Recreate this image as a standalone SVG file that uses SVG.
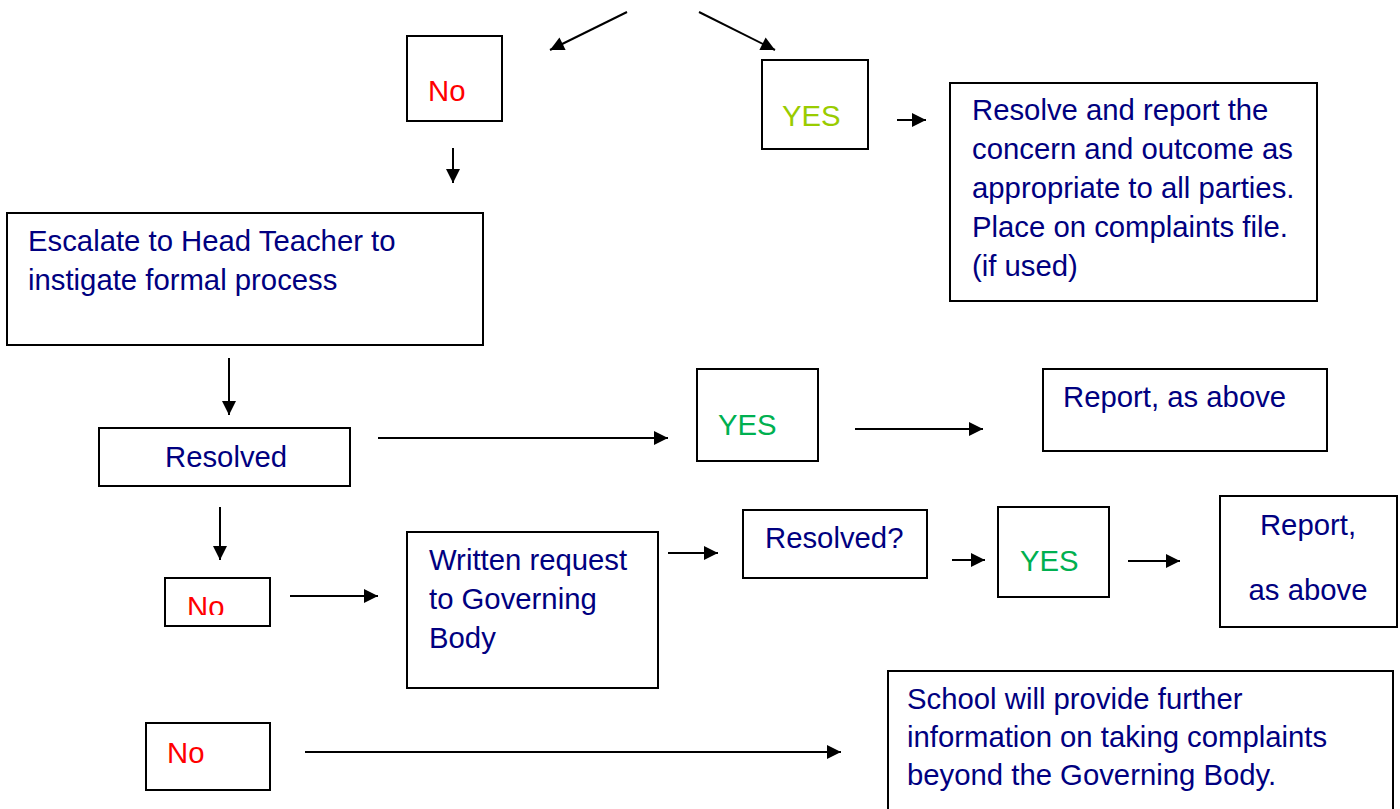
<svg xmlns="http://www.w3.org/2000/svg" width="1400" height="809" viewBox="0 0 1400 809">
<style>
  .box { fill: #ffffff; stroke: #000000; stroke-width: 2; }
  .t { font-family: "Liberation Sans", Arial, sans-serif; font-size: 29.3px; }
  .blue { fill: #000080; }
  .red { fill: #ff0000; }
  .lime { fill: #99cc00; }
  .green { fill: #00b050; }
  .conn { stroke: #000000; stroke-width: 2; fill: none; marker-end: url(#ah); }
</style>
<defs>
  <marker id="ah" viewBox="0 0 10 10" refX="10" refY="5" markerWidth="16" markerHeight="14" markerUnits="userSpaceOnUse" orient="auto">
    <path d="M0,0 L10,5 L0,10 z" fill="#000000"/>
  </marker>
  <clipPath id="clipNo2"><rect x="165" y="578" width="105" height="37"/></clipPath>
</defs>
<rect width="1400" height="809" fill="#ffffff"/>

<g id="connectors">
  <line class="conn" x1="627" y1="12" x2="550" y2="50"/>
  <line class="conn" x1="699" y1="12" x2="775" y2="50"/>
  <line class="conn" x1="453" y1="148" x2="453" y2="183"/>
  <line class="conn" x1="897" y1="120" x2="926" y2="120"/>
  <line class="conn" x1="229" y1="358" x2="229" y2="415"/>
  <line class="conn" x1="378" y1="438" x2="668" y2="438"/>
  <line class="conn" x1="855" y1="429" x2="983" y2="429"/>
  <line class="conn" x1="220" y1="507" x2="220" y2="560"/>
  <line class="conn" x1="290" y1="596" x2="378" y2="596"/>
  <line class="conn" x1="668" y1="553" x2="718" y2="553"/>
  <line class="conn" x1="952" y1="560" x2="985" y2="560"/>
  <line class="conn" x1="1128" y1="561" x2="1180" y2="561"/>
  <line class="conn" x1="305" y1="752" x2="841" y2="752"/>
</g>

<g id="no1">
  <rect class="box" x="407" y="36" width="95" height="85"/>
  <text class="t red" x="428" y="101">No</text>
</g>
<g id="yes1">
  <rect class="box" x="762" y="60" width="106" height="89"/>
  <text class="t lime" x="782" y="126">YES</text>
</g>
<g id="resolve-report">
  <rect class="box" x="950" y="83" width="367" height="218"/>
  <text class="t blue" x="972" y="120">Resolve and report the</text>
  <text class="t blue" x="972" y="159">concern and outcome as</text>
  <text class="t blue" x="972" y="198">appropriate to all parties.</text>
  <text class="t blue" x="972" y="237">Place on complaints file.</text>
  <text class="t blue" x="972" y="276">(if used)</text>
</g>
<g id="escalate">
  <rect class="box" x="7" y="213" width="476" height="132"/>
  <text class="t blue" x="28" y="251">Escalate to Head Teacher to</text>
  <text class="t blue" x="28" y="290">instigate formal process</text>
</g>
<g id="resolved1">
  <rect class="box" x="99" y="428" width="251" height="58"/>
  <text class="t blue" x="165" y="467">Resolved</text>
</g>
<g id="yes2">
  <rect class="box" x="697" y="369" width="121" height="92"/>
  <text class="t green" x="718" y="435">YES</text>
</g>
<g id="report1">
  <rect class="box" x="1043" y="369" width="284" height="82"/>
  <text class="t blue" x="1063" y="407">Report, as above</text>
</g>
<g id="no2">
  <rect class="box" x="165" y="578" width="105" height="48"/>
  <text class="t red" x="187" y="617" clip-path="url(#clipNo2)">No</text>
</g>
<g id="written-request">
  <rect class="box" x="407" y="532" width="251" height="156"/>
  <text class="t blue" x="429" y="570">Written request</text>
  <text class="t blue" x="429" y="609">to Governing</text>
  <text class="t blue" x="429" y="648">Body</text>
</g>
<g id="resolved2">
  <rect class="box" x="743" y="510" width="184" height="68"/>
  <text class="t blue" x="765" y="548">Resolved?</text>
</g>
<g id="yes3">
  <rect class="box" x="998" y="507" width="111" height="90"/>
  <text class="t green" x="1020" y="571">YES</text>
</g>
<g id="report2">
  <rect class="box" x="1220" y="496" width="177" height="131"/>
  <text class="t blue" x="1308" y="535" text-anchor="middle">Report,</text>
  <text class="t blue" x="1308" y="600" text-anchor="middle">as above</text>
</g>
<g id="no3">
  <rect class="box" x="146" y="723" width="124" height="67"/>
  <text class="t red" x="167" y="763">No</text>
</g>
<g id="school-info">
  <rect class="box" x="888" y="671" width="505" height="170"/>
  <text class="t blue" x="907" y="709">School will provide further</text>
  <text class="t blue" x="907" y="747">information on taking complaints</text>
  <text class="t blue" x="907" y="785">beyond the Governing Body.</text>
</g>
</svg>
